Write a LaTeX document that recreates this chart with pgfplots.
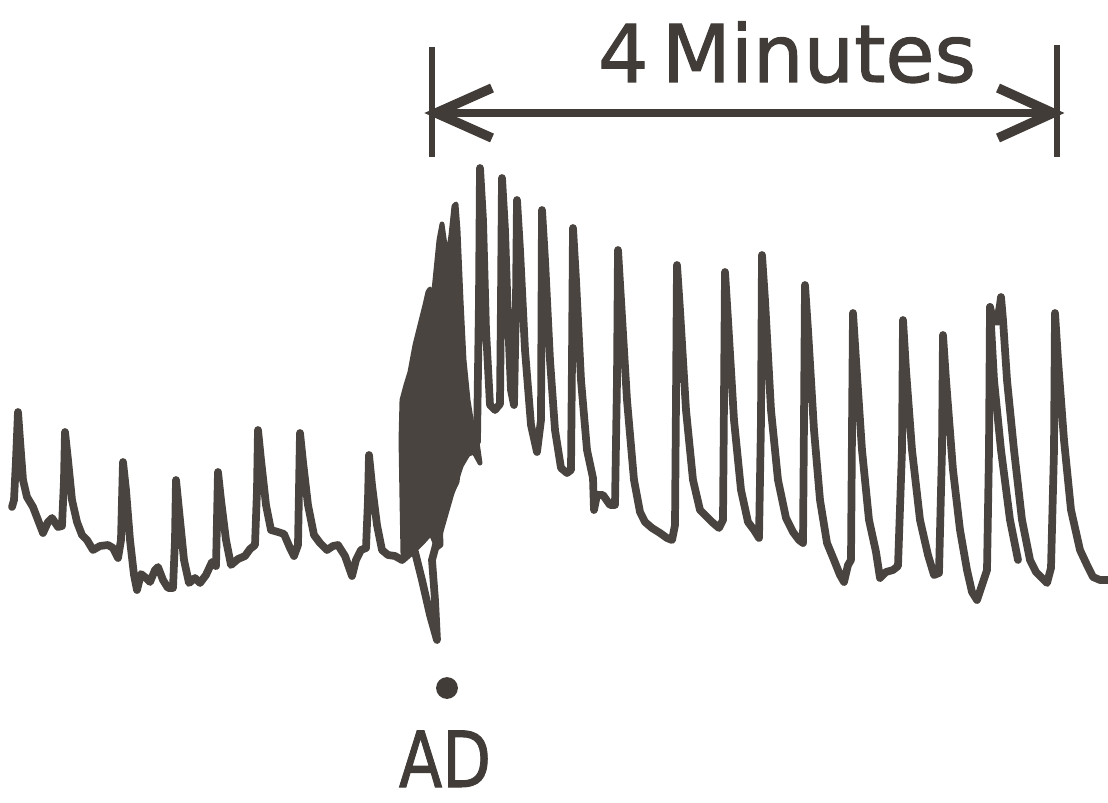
\documentclass[border=0pt]{standalone}
\usepackage{pgfplots}
\pgfplotsset{compat=1.18}
\usepackage{fontspec}
\setmainfont{DejaVu Sans}
\newfontfamily\labelfont[FakeBold=1.3]{DejaVu Sans}
\definecolor{ink}{HTML}{4A4440}
\definecolor{txt}{HTML}{423C38}
\begin{document}
\begin{tikzpicture}
\begin{axis}[
  scale only axis, width=11.08cm, height=8.02cm,
  xmin=0, xmax=1108, ymin=0, ymax=802, y dir=reverse,
  hide axis, clip=true,
]
% dense burst after AD (filled mass)
\addplot[fill=ink, draw=ink, line width=1.4pt, line join=round] coordinates {
(403,555) (402,500) (401,440) (402,400) (406,385) (410,372) (415,345) (420,325)
(425,305) (428,292) (430,289) (433,300) (436,270) (439,240) (442,224) (445,245)
(448,255) (451,235) (454,206) (456,204) (458,230) (461,300) (464,360) (468,400)
(472,425) (477,442) (480,463) (474,452) (466,455) (460,458) (457,482) (448,500)
(440,515) (441,545) (437,548) (431,533) (422,543) (413,552)} -- cycle;
% main trace
\addplot[ink, line width=2.2pt, line join=round, line cap=round] coordinates {
(12,507) (14,500) (16,460) (18,412) (20,440) (23,480) (27,497) (33,507) (38,520)
(43,533) (48,522) (52,518) (58,527) (62,526) (64,480) (65,432) (68,460) (72,500)
(77,522) (82,535) (87,540) (93,550) (100,546) (108,545) (113,548) (118,558)
(121,540) (123,462) (126,490) (130,540) (134,575) (137,590) (141,574) (146,578)
(150,582) (155,570) (158,567) (163,580) (168,588) (173,588) (175,540) (176,480)
(179,510) (184,560) (189,583) (195,578) (200,583) (206,575) (212,562) (216,566)
(217,520) (218,472) (221,500) (226,540) (231,565) (238,559) (245,556) (250,549)
(255,545) (257,490) (258,430) (261,460) (266,505) (271,530) (278,532) (284,534)
(290,548) (294,556) (298,545) (299,490) (300,433) (303,462) (308,505) (314,535)
(320,543) (327,550) (333,546) (338,545) (345,556) (352,576) (356,560) (361,550)
(366,548) (368,500) (369,455) (372,485) (377,525) (382,550) (388,555) (395,556)
(402,560) (410,553) (415,552) (422,580) (430,615) (437,640) (435,600) (432,560)
(440,530) (450,495) (460,465) (470,448) (477,442) (479,300) (480,168) (483,220)
(486,330) (490,405) (495,410) (500,404) (501,300) (502,178) (505,230) (508,320)
(511,390) (514,405) (516,300) (517,200) (520,250) (525,350) (531,425) (537,452)
(541,420) (542,210) (545,260) (550,360) (555,430) (561,468) (567,473) (571,470)
(572,360) (573,228) (576,280) (581,380) (587,450) (593,478) (594,510) (597,495)
(603,495) (610,505) (615,505) (617,380) (618,250) (621,300) (627,400) (634,480)
(640,512) (645,522) (652,528) (660,533) (667,538) (672,540) (675,525) (676,400)
(677,265) (680,310) (686,410) (693,480) (700,510) (706,516) (712,522) (719,528)
(723,520) (724,400) (725,272) (728,320) (734,420) (741,490) (748,522) (754,530)
(759,538) (761,420) (762,255) (765,300) (771,410) (778,480) (786,518) (793,532)
(799,540) (803,543) (804,420) (805,285) (808,330) (814,430) (820,500) (827,543)
(834,560) (840,575) (844,582) (848,565) (851,560) (852,430) (853,313) (856,360)
(862,450) (869,520) (876,552) (880,578) (886,572) (893,570) (898,566) (902,450)
(903,320) (906,370) (912,450) (920,520) (928,555) (934,575) (939,573) (942,450)
(943,335) (946,380) (953,470) (960,530) (967,570) (972,592) (977,600) (982,585)
(987,570) (989,450) (990,307) (993,320) (997,322) (1000,305) (1001,297) (1003,320)
(1007,380) (1014,450) (1022,520) (1030,560) (1036,572) (1042,578) (1047,583)
(1051,568) (1054,450) (1055,313) (1058,360) (1064,440) (1071,510) (1080,550)
(1087,565) (1093,577) (1100,580) (1108,580)};
% second edge of the thick spike
\addplot[ink, line width=2.2pt, line join=round, line cap=round] coordinates {
(990,307) (994,380) (1001,450) (1010,520) (1018,560)};
% 4 minutes bar
\addplot[txt, line width=1.6pt] coordinates {(432,47) (432,157)};
\addplot[txt, line width=1.6pt] coordinates {(1057,45) (1057,157)};
\addplot[txt, line width=2.2pt] coordinates {(432,113) (1057,113)};
\addplot[txt, line width=2.7pt, line join=miter] coordinates {(492,88) (436,113) (492,138)};
\addplot[txt, line width=2.7pt, line join=miter] coordinates {(998,88) (1053,113) (998,138)};
% dot
\addplot[only marks, mark=*, mark size=2.9pt, mark options={fill=txt, draw=txt}] coordinates {(447,688)};
\node[anchor=base, text=txt, inner sep=0pt] at (axis cs:787,82) {\labelfont\fontsize{22.7}{27}\selectfont 4\,Minutes};
\node[anchor=base, text=txt, inner sep=0pt] at (axis cs:445,787) {\scalebox{0.82}[1]{\labelfont\fontsize{22}{26}\selectfont AD}};
\end{axis}
\pgfresetboundingbox
\useasboundingbox (current axis.south west) rectangle (current axis.north east);
\end{tikzpicture}
\end{document}
